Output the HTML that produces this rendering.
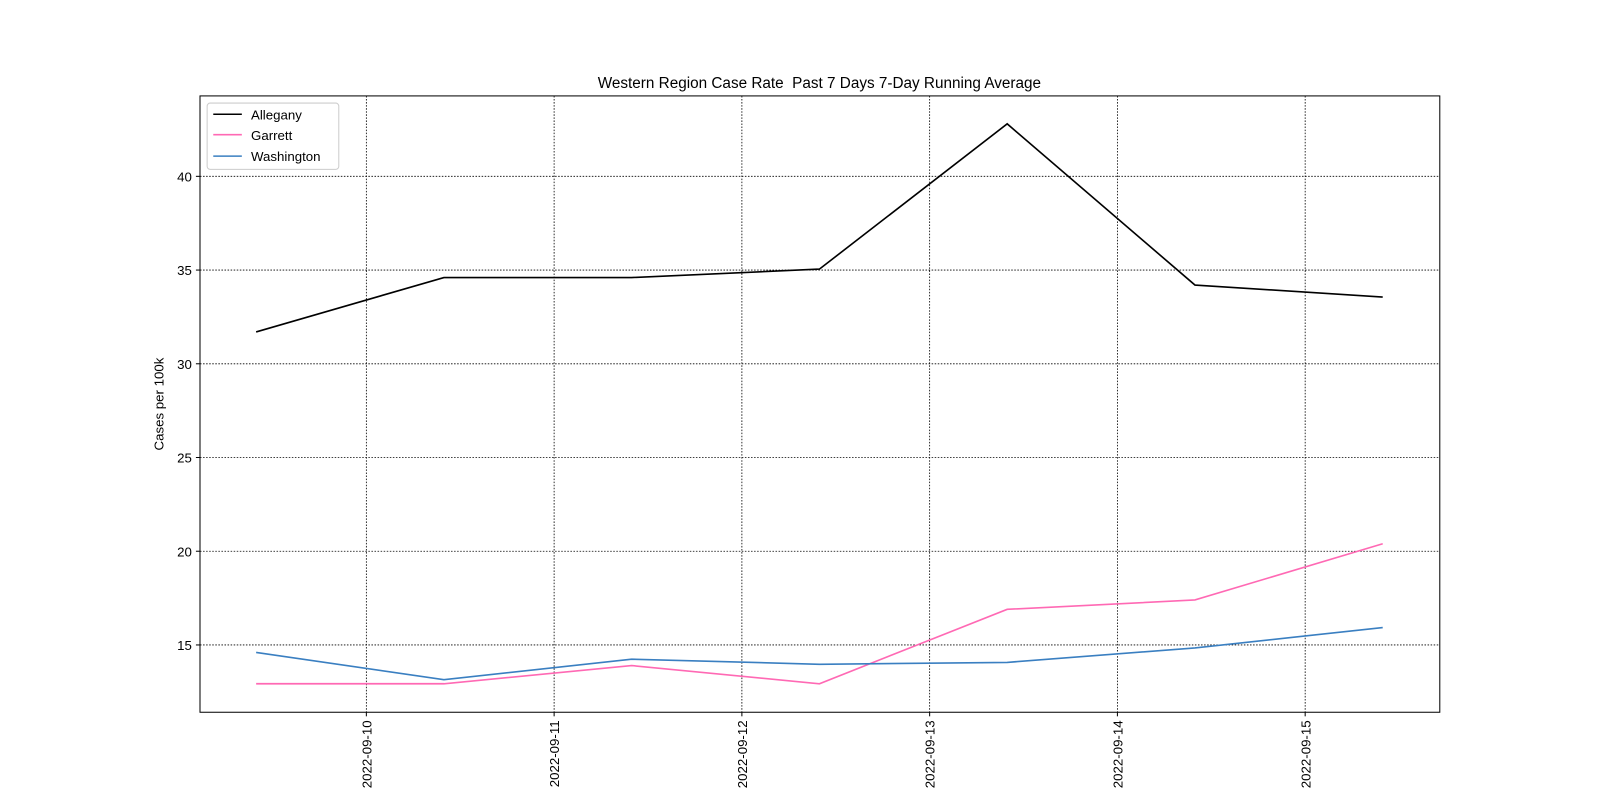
<!DOCTYPE html>
<html><head><meta charset="utf-8"><style>
body{margin:0;background:#fff;}
svg{display:block;font-family:"Liberation Sans","DejaVu Sans",sans-serif;}
</style></head><body>
<svg id="chart" width="1600" height="800" viewBox="0 0 1568 784">
<rect width="1568" height="784" fill="#fff"/>
<text x="803" y="86" font-size="15" text-anchor="middle">Western Region Case Rate &#160;Past 7 Days 7-Day Running Average</text>
<g id="grid"></g>
<g id="lines"></g>
<rect x="196" y="94" width="1215" height="604" fill="none" stroke="#000" stroke-width="1"/>
<g id="axes"></g>
<text transform="translate(160,396) rotate(-90)" font-size="13" text-anchor="middle">Cases per 100k</text>
<g>
<rect x="203" y="101" width="129" height="65" rx="3" fill="#fff" fill-opacity="0.8" stroke="#ccc"/>
<g><line x1="209" y1="112" x2="237" y2="112" stroke="#000" stroke-width="1.5"/><text x="246" y="117" font-size="13">Allegany</text></g>
<g><line x1="209" y1="132" x2="237" y2="132" stroke="#ff69b4" stroke-width="1.5"/><text x="246" y="137" font-size="13">Garrett</text></g>
<g><line x1="209" y1="153" x2="237" y2="153" stroke="#3a7fc1" stroke-width="1.5"/><text x="246" y="158" font-size="13">Washington</text></g>
</g>
</svg>
<script>
const dayOffsets=[-0.587,0.413,1.413,2.413,3.413,4.413,5.413];
const allegany=[31.7,34.6,34.6,35.05,42.8,34.2,33.56];
const garrett=[12.93,12.93,13.9,12.93,16.9,17.4,20.4];
const washington=[14.6,13.15,14.24,13.97,14.07,14.84,15.93];
const xTickLabels=["2022-09-10","2022-09-11","2022-09-12","2022-09-13","2022-09-14","2022-09-15"];
const yTicks=[15,20,25,30,35,40];
const NS="http://www.w3.org/2000/svg";
const X0=196,X1=1411,Y0=94,Y1=698;
const xMin=-0.886,xMax=5.717,yMin=11.41,yMax=44.29;
const xs=d=>X0+(d-xMin)/(xMax-xMin)*(X1-X0);
const ys=v=>Y1-(v-yMin)/(yMax-yMin)*(Y1-Y0);
function mk(tag,attrs,parent){const e=document.createElementNS(NS,tag);for(const k in attrs)e.setAttribute(k,attrs[k]);parent.appendChild(e);return e;}
const grid=document.getElementById('grid'),axes=document.getElementById('axes'),lines=document.getElementById('lines');
yTicks.forEach(t=>{const y=ys(t);
const g=mk('line',{x1:X0,x2:X1,y1:y,y2:y,stroke:'#000','stroke-width':0.8,'stroke-dasharray':'1.5,1.5'},grid);


mk('line',{x1:X0-4,x2:X0,y1:y,y2:y,stroke:'#000'},axes);
const tx=mk('text',{x:X0-8,y:y+5,'font-size':13,'text-anchor':'end'},axes);tx.textContent=t;

});
xTickLabels.forEach((l,i)=>{const x=xs(i);
const g=mk('line',{x1:x,x2:x,y1:Y0,y2:Y1,stroke:'#000','stroke-width':0.8,'stroke-dasharray':'1.5,1.5'},grid);


mk('line',{x1:x,x2:x,y1:Y1,y2:Y1+4,stroke:'#000'},axes);
const tx=mk('text',{transform:`translate(${x+5},${Y1+8}) rotate(-90)`,'font-size':13,'text-anchor':'end'},axes);tx.textContent=l;

});
[[allegany,'#000','allegany-line'],[garrett,'#ff69b4','garrett-line'],[washington,'#3a7fc1','washington-line']].forEach(([s,c,n])=>{
const p=mk('polyline',{points:s.map((v,i)=>xs(dayOffsets[i])+','+ys(v)).join(' '),fill:'none',stroke:c,'stroke-width':1.6},lines);

});
</script>
</body></html>
